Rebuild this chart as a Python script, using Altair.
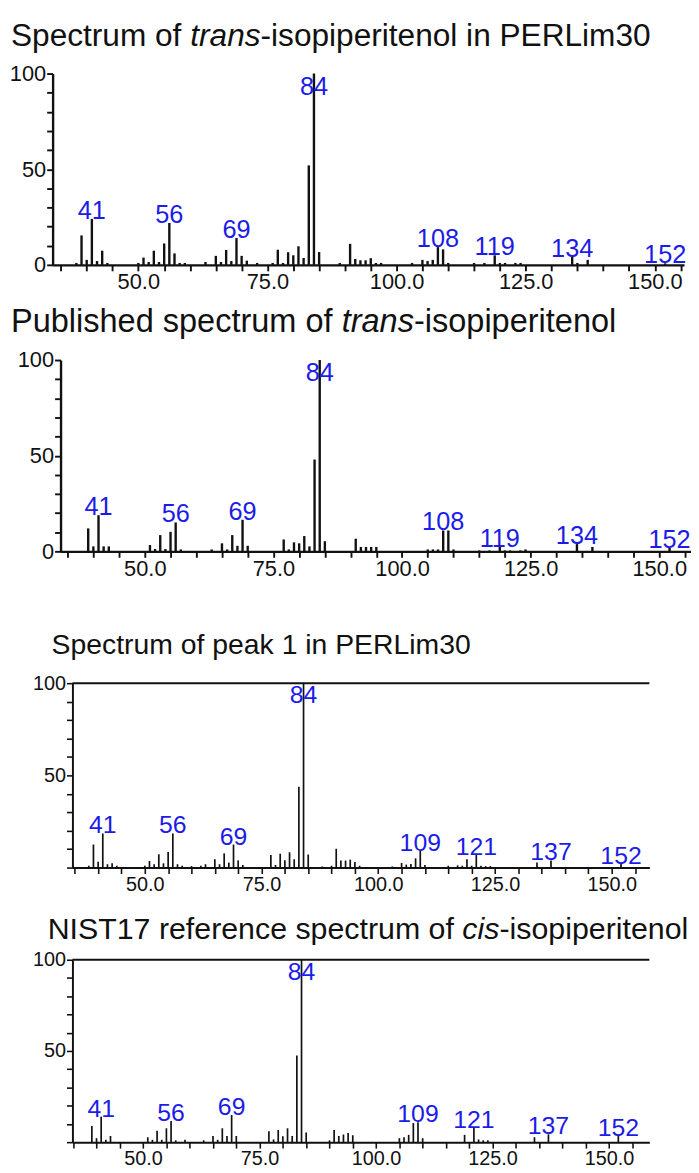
import altair as alt
import pandas as pd

FONT = "Liberation Sans"
INK = "#111111"
BLUE = "#1c1ce8"

# ---------------- data ----------------
mz_p1 = [38, 39, 40, 41, 42, 43, 44, 50, 51, 52, 53, 54, 55, 56, 57, 58, 59, 63, 65, 66,
         67, 68, 69, 70, 71, 73, 76, 77, 78, 79, 80, 81, 82, 83, 84, 85, 89, 91, 92, 93,
         94, 95, 96, 97, 103, 105, 106, 107, 108, 109, 110, 115, 117, 119, 120, 121, 123, 124,
         134, 135, 137, 152]
int_p1 = [1, 15.4, 2.6, 24, 2, 7.4, 1, 1, 3.8, 1.5, 7.4, 1.5, 11.2, 21.9, 6, 1, 1, 1.5, 4.7, 1.5,
          7.8, 2, 14, 4.7, 2.2, 1, 1, 7.9, 1, 6.6, 5, 9.7, 3.6, 52, 100, 6.7, 1, 11, 3.1, 2.4,
          2.4, 3.5, 1, 1, 1, 2.6, 2, 2.6, 9.3, 8.1, 1, 1, 1, 5, 1, 1, 1, 1,
          4.3, 1, 2.6, 0.8]
lab_p1 = [41, 56, 69, 84, 108, 119, 134, 152]

mz_p2 = [39, 40, 41, 42, 43, 51, 52, 53, 54, 55, 56, 57, 63, 65, 66, 67, 68, 69, 70, 77,
         78, 79, 80, 81, 82, 83, 84, 85, 91, 92, 93, 94, 95, 105, 106, 107, 108, 109, 110, 115,
         117, 119, 120, 121, 123, 124, 134, 137, 152]
int_p2 = [12, 2.6, 18.9, 2.6, 2.6, 3.3, 1.2, 8.5, 1.2, 10.2, 15.1, 1, 1, 4.2, 1, 8.5, 2.9, 16.5, 2.9, 6.2,
          1, 4.7, 4.2, 8, 2.6, 48, 100, 5.3, 6.6, 2.3, 2.3, 2.3, 2.3, 1, 1, 1, 10.9, 10.9, 1, 0.5,
          0.5, 2.3, 0.5, 0.5, 0.5, 1, 3.8, 2.3, 2]
lab_p2 = [41, 56, 69, 84, 108, 119, 134, 152]

mz_p3 = [38, 39, 40, 41, 42, 43, 44, 50, 51, 52, 53, 54, 55, 56, 57, 58, 60, 62, 63, 65,
         66, 67, 68, 69, 70, 71, 77, 78, 79, 80, 81, 82, 83, 84, 85, 88, 90, 91, 92, 93,
         94, 95, 96, 103, 105, 106, 107, 108, 109, 110, 115, 117, 118, 119, 120, 121, 122, 123,
         124, 134, 137, 152]
int_p3 = [1, 12.5, 3.2, 18.5, 1.8, 2.3, 1, 1, 3.6, 1.8, 7.2, 2.3, 8.4, 18.5, 1.8, 1, 0.8, 1, 1.8, 4.5,
          1.8, 7.7, 2.7, 12.5, 3.9, 1.4, 6.8, 1.4, 7.5, 4, 8.3, 4.5, 43.8, 100, 7.1, 0.6, 1, 10.2, 3.8, 3.8,
          4.3, 3, 1, 0.6, 2.5, 1.6, 2, 5, 9, 1.4, 1, 1.2, 1, 4.5, 1, 6.8, 1, 0.8,
          0.8, 2.7, 3.9, 2.2]
lab_p3 = [41, 56, 69, 84, 109, 121, 137, 152]

mz_p4 = [39, 40, 41, 42, 43, 51, 52, 53, 54, 55, 56, 57, 59, 63, 65, 66, 67, 68, 69, 70,
         77, 78, 79, 80, 81, 82, 83, 84, 85, 90, 91, 92, 93, 94, 95, 105, 106, 107, 108, 109,
         110, 119, 121, 122, 123, 124, 134, 137, 152]
int_p4 = [8.9, 2.2, 14, 1.3, 3.4, 2.7, 1.3, 6.2, 1.3, 7.6, 11.6, 1, 1.3, 1, 3.4, 1.3, 7.6, 3.4, 14.9, 3.4,
          6, 1.5, 6.7, 3.2, 7.6, 3.4, 47.5, 100, 5.3, 1, 6.7, 3.4, 4.2, 5, 3.8, 2.2, 2.7, 4, 10.5, 10.9,
          2.2, 4, 8, 1.5, 1, 1, 2.7, 4.3, 3.6]
lab_p4 = [41, 56, 69, 84, 109, 121, 137, 152]

title_p1 = [("Spectrum of ", False), ("trans", True), ("-isopiperitenol in PERLim30", False)]
title_p2 = [("Published spectrum of ", False), ("trans", True), ("-isopiperitenol", False)]
title_p3 = [("Spectrum of peak 1 in PERLim30", False)]
title_p4 = [("NIST17 reference spectrum of ", False), ("cis", True), ("-isopiperitenol", False)]

x_ticks = list(range(35, 160, 5))
y_ticks = list(range(0, 101, 10))

# Arial / Liberation Sans advance widths (per 1000 em) used to place italic title segments
AW = {" ": 278, "-": 333, "E": 667, "I": 278, "L": 556, "N": 722, "P": 667, "R": 722, "S": 667,
      "T": 611, "a": 556, "b": 556, "c": 500, "d": 556, "e": 556, "f": 278, "h": 556, "i": 222,
      "k": 500, "l": 222, "m": 833, "n": 556, "o": 556, "p": 556, "r": 333, "s": 500, "t": 278,
      "u": 556}


def text_width(s, size):
    return sum(AW.get(c, 556) for c in s) * size / 1000.0


def title_layers(segments, x0, baseline, size):
    layers = []
    x = x0
    for txt, italic in segments:
        layers.append(
            alt.Chart(pd.DataFrame({"t": [txt]}))
            .mark_text(align="left", baseline="alphabetic", font=FONT, fontSize=size,
                       fontStyle="italic" if italic else "normal", color=INK)
            .encode(x=alt.value(x), y=alt.value(baseline), text="t:N")
        )
        x += text_width(txt, size)
    return layers


W = 689
panels_cfg = [
    dict(mz=mz_p1, inten=int_p1, labels=lab_p1, title=title_p1, tx=3, ty=33, tsize=31.9,
         xdom=[33.40, 155.66], xr=[45, 682], h=254, ytop=61, sw=2.4, aw=2.4, afs=22, lfs=25.5,
         ylabs="datum.value % 50 === 0 ? datum.label : ''", frame=False),
    dict(mz=mz_p2, inten=int_p2, labels=lab_p2, title=title_p2, tx=3, ty=68, tsize=32.8,
         xdom=[33.62, 156.17], xr=[53, 689], h=289, ytop=96, sw=2.4, aw=2.4, afs=22, lfs=25.5,
         ylabs="datum.value % 50 === 0 ? datum.label : ''", frame=False),
    dict(mz=mz_p3, inten=int_p3, labels=lab_p3, title=title_p3, tx=44, ty=104, tsize=28.6,
         xdom=[34.50, 158.07], xr=[65, 647], h=319, ytop=133, sw=1.7, aw=2, afs=20, lfs=25,
         ylabs="(datum.value === 50 || datum.value === 100) ? datum.label : ''", frame=True),
    dict(mz=mz_p4, inten=int_p4, labels=lab_p4, title=title_p4, tx=40, ty=72, tsize=30.6,
         xdom=[34.83, 158.66], xr=[65, 647], h=277, ytop=93, sw=1.7, aw=2, afs=20, lfs=25,
         ylabs="(datum.value === 50 || datum.value === 100) ? datum.label : ''", frame=True),
]


def make_panel(c):
    df = pd.DataFrame({"mz": c["mz"], "intensity": c["inten"]})
    xs = alt.Scale(domain=c["xdom"], range=c["xr"], nice=False, zero=False)
    ys = alt.Scale(domain=[0, 100], range=[c["h"], c["ytop"]], nice=False, zero=False)
    x_axis = alt.Axis(values=x_ticks, labelExpr="datum.value % 25 === 0 ? format(datum.value, '.1f') : ''",
                      labelOverlap=False, grid=False, domainColor=INK, domainWidth=c["aw"],
                      tickColor=INK, tickWidth=c["aw"] * 0.8, tickSize=6, labelPadding=1,
                      labelFont=FONT, labelFontSize=c["afs"], labelColor=INK, title=None)
    y_axis = alt.Axis(values=y_ticks, labelExpr=c["ylabs"], labelOverlap=False, grid=False,
                      offset=-c["xr"][0], domainColor=INK, domainWidth=c["aw"], tickColor=INK,
                      tickWidth=c["aw"] * 0.8, tickSize=6, labelPadding=1, labelFont=FONT,
                      labelFontSize=c["afs"], labelColor=INK, title=None)

    def X(f):
        return alt.X(f, scale=xs, axis=x_axis, title=None)

    def Y(f):
        return alt.Y(f, scale=ys, axis=y_axis, title=None)

    base = alt.Chart(df)
    sticks = base.transform_calculate(base0="0").mark_rule(color=INK, strokeWidth=c["sw"]).encode(
        x=X("mz:Q"), y=Y("intensity:Q"), y2="base0:Q")
    labels = (base.transform_filter(alt.FieldOneOfPredicate(field="mz", oneOf=c["labels"]))
              .transform_calculate(ly="min(datum.intensity, 89)")
              .mark_text(baseline="alphabetic", align="center", font=FONT, fontSize=c["lfs"], color=BLUE)
              .encode(x=X("mz:Q"), y=Y("ly:Q"), text="mz:Q"))
    layers = [sticks, labels]
    if c["frame"]:
        top = alt.Chart(pd.DataFrame({"x1": [c["xdom"][0]], "x2": [c["xdom"][1]], "yv": [100]})).mark_rule(
            color=INK, strokeWidth=c["aw"]).encode(x=X("x1:Q"), x2="x2:Q", y=Y("yv:Q"))
        layers.append(top)
    layers += title_layers(c["title"], c["tx"], c["ty"], c["tsize"])
    return alt.layer(*layers).properties(width=W, height=c["h"])


panels = [make_panel(c) for c in panels_cfg]

chart = (alt.vconcat(*panels, spacing=0, bounds="flush")
         .properties(padding=0, background="white")
         .configure_view(stroke=None))

chart.save("out.html", embed_options={"renderer": "svg", "actions": False})
